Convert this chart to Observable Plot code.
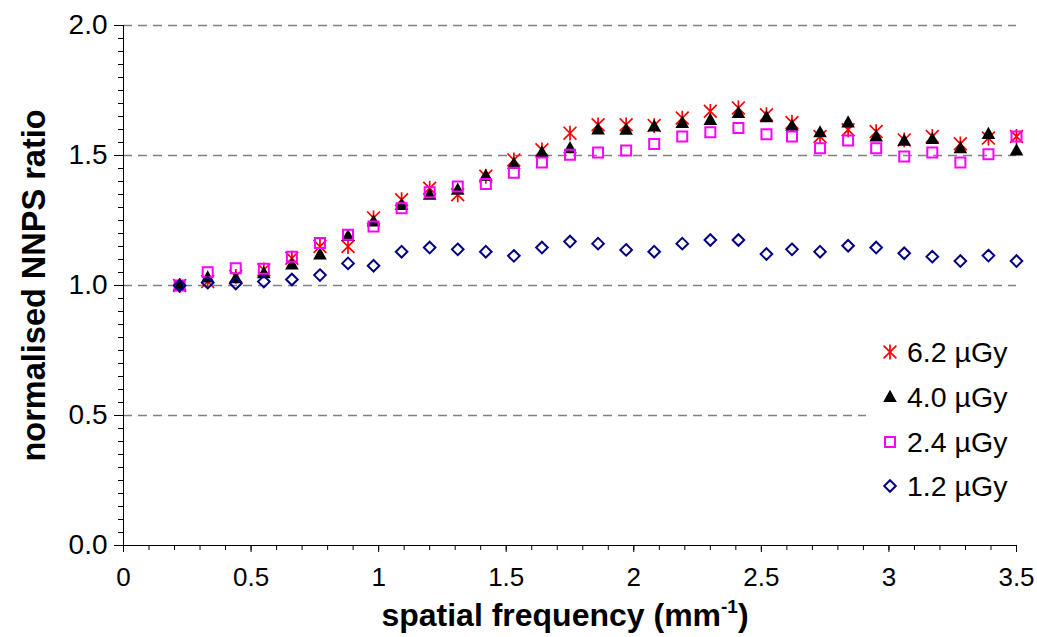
<!DOCTYPE html>
<html>
<head>
<meta charset="utf-8">
<script src="https://cdn.jsdelivr.net/npm/d3@7"></script>
<script src="https://cdn.jsdelivr.net/npm/@observablehq/plot@0.6"></script>
<style>
  body { margin: 0; background: #fff; }
  #chart { width: 1037px; height: 637px; }
</style>
</head>
<body>
<div id="chart"></div>
<script>
// ---- data ----
const freq = [0.22, 0.33, 0.44, 0.55, 0.66, 0.77, 0.88, 0.98, 1.09, 1.20, 1.31, 1.42, 1.53, 1.64, 1.75, 1.86,
              1.97, 2.08, 2.19, 2.30, 2.41, 2.52, 2.62, 2.73, 2.84, 2.95, 3.06, 3.17, 3.28, 3.39, 3.50];
const dose62 = [1.00, 1.015, 1.035, 1.06, 1.105, 1.15, 1.15, 1.26, 1.33, 1.374, 1.349, 1.42, 1.483, 1.522, 1.586, 1.618,
                1.618, 1.615, 1.644, 1.67, 1.683, 1.657, 1.627, 1.573, 1.599, 1.592, 1.56, 1.573, 1.545, 1.567, 1.573];
const dose40 = [1.00, 1.031, 1.028, 1.047, 1.081, 1.119, 1.19, 1.246, 1.31, 1.349, 1.368, 1.422, 1.468, 1.512, 1.528, 1.60,
                1.599, 1.612, 1.625, 1.637, 1.663, 1.647, 1.614, 1.589, 1.627, 1.573, 1.557, 1.563, 1.528, 1.583, 1.519];
const dose24 = [1.00, 1.051, 1.066, 1.064, 1.111, 1.163, 1.195, 1.227, 1.297, 1.359, 1.381, 1.39, 1.434, 1.473, 1.503, 1.512,
                1.519, 1.544, 1.573, 1.589, 1.606, 1.582, 1.573, 1.528, 1.558, 1.528, 1.496, 1.512, 1.473, 1.505, 1.573];
const dose12 = [1.00, 1.011, 1.008, 1.015, 1.023, 1.04, 1.085, 1.076, 1.13, 1.146, 1.139, 1.13, 1.114, 1.146, 1.169, 1.161,
                1.137, 1.13, 1.161, 1.175, 1.175, 1.121, 1.139, 1.13, 1.153, 1.146, 1.124, 1.111, 1.094, 1.115, 1.094];
const seriesNames = ["6.2 µGy", "4.0 µGy", "2.4 µGy", "1.2 µGy"];
const xTicks = [0, 0.5, 1, 1.5, 2, 2.5, 3, 3.5];
const xTickLabels = ["0", "0.5", "1", "1.5", "2", "2.5", "3", "3.5"];
const yTicks = [0, 0.5, 1, 1.5, 2];
const yTickLabels = ["0.0", "0.5", "1.0", "1.5", "2.0"];
const gridValues = [0.5, 1, 1.5, 2];
const xTitle = "spatial frequency (mm";
const xTitleSup = "-1";
const yTitle = "normalised NNPS ratio";

// ---- marker shapes ----
const starSym = { draw(c) { const a = 6.4; c.moveTo(-a, -a); c.lineTo(a, a); c.moveTo(a, -a); c.lineTo(-a, a); c.moveTo(0, -7.4); c.lineTo(0, 7.4); } };
const triSym = { draw(c) { c.moveTo(0, -7.2); c.lineTo(6.8, 5); c.lineTo(-6.8, 5); c.closePath(); } };
const sqSym = { draw(c) { const a = 5; c.moveTo(-a, -a); c.lineTo(a, -a); c.lineTo(a, a); c.lineTo(-a, a); c.closePath(); } };
const diaSym = { draw(c) { const a = 5.8; c.moveTo(0, -a); c.lineTo(a, 0); c.lineTo(0, a); c.lineTo(-a, 0); c.closePath(); } };

const styles = [
  { sym: starSym, fill: "none", stroke: "#FF0000", sw: 1.7 },
  { sym: triSym, fill: "#000000", stroke: "none", sw: 0 },
  { sym: sqSym, fill: "none", stroke: "#FF00FF", sw: 2 },
  { sym: diaSym, fill: "none", stroke: "#000080", sw: 2 }
];
const allSeries = [dose62, dose40, dose24, dose12];
const tables = allSeries.map(vals => freq.map((f, i) => ({ f, v: vals[i] })));

const xMinor = d3.range(0, 3.5001, 0.1);
const yMinor = d3.range(0, 2.0001, 0.05);

const FONT = "Liberation Sans, Arial, Helvetica, sans-serif";

const chart = Plot.plot({
  width: 1037, height: 637,
  marginLeft: 123, marginRight: 21, marginTop: 25, marginBottom: 92,
  style: { fontFamily: FONT, background: "#ffffff", color: "#000000" },
  x: { domain: [0, 3.5], label: null },
  y: { domain: [0, 2], label: null },
  marks: [
    Plot.ruleY(gridValues, { stroke: "#808080", strokeWidth: 1.5, strokeDasharray: "9,6" }),
    Plot.axisY(yMinor, { tickSize: 5, tickFormat: () => "", label: null, strokeWidth: 1 }),
    Plot.axisY(yTicks, { tickSize: 9, tickPadding: 7, fontSize: 28, label: null,
      tickFormat: d => yTickLabels[yTicks.indexOf(d)] }),
    Plot.axisX(xMinor, { tickSize: 5, tickFormat: () => "", label: null }),
    Plot.axisX(xTicks, { tickSize: 7, tickPadding: 15, fontSize: 26, label: null,
      tickFormat: d => xTickLabels[xTicks.indexOf(d)] }),
    Plot.ruleX([0], { stroke: "#000" }),
    Plot.ruleY([0], { stroke: "#000" }),
    ...tables.map((t, k) => Plot.dot(t, { x: "f", y: "v", symbol: styles[k].sym, r: 6,
      fill: styles[k].fill, stroke: styles[k].stroke, strokeWidth: styles[k].sw })),
    Plot.text([yTitle], { frameAnchor: "left", dx: -89, rotate: -90, textAnchor: "middle",
      fontSize: 32.5, fontWeight: "bold" })
  ]
});
document.getElementById("chart").appendChild(chart);

// x-axis title with superscript
const svg = d3.select(chart);
const xt = svg.append("text")
  .attr("x", 565).attr("y", 626)
  .attr("text-anchor", "middle")
  .attr("font-family", FONT).attr("font-size", 32).attr("font-weight", "bold").attr("fill", "#000");
xt.append("tspan").text(xTitle);
xt.append("tspan").attr("font-size", 19).attr("dy", -13).text(xTitleSup);
xt.append("tspan").attr("dy", 13).text(")");

// legend
const lg = svg.append("g");
lg.append("rect").attr("x", 866).attr("y", 325).attr("width", 152).attr("height", 186).attr("fill", "#fff");
const rowY = [352, 397, 442, 486];
seriesNames.forEach((name, k) => {
  const p = d3.path();
  styles[k].sym.draw(p);
  lg.append("path").attr("d", p.toString()).attr("transform", `translate(890,${rowY[k]})`)
    .attr("fill", styles[k].fill).attr("stroke", styles[k].stroke).attr("stroke-width", styles[k].sw);
  lg.append("text").attr("x", 907).attr("y", rowY[k]).attr("dy", "0.36em")
    .attr("text-anchor", "start")
    .attr("font-family", FONT).attr("font-size", 28.5).attr("fill", "#000").text(name);
});
</script>
</body>
</html>
